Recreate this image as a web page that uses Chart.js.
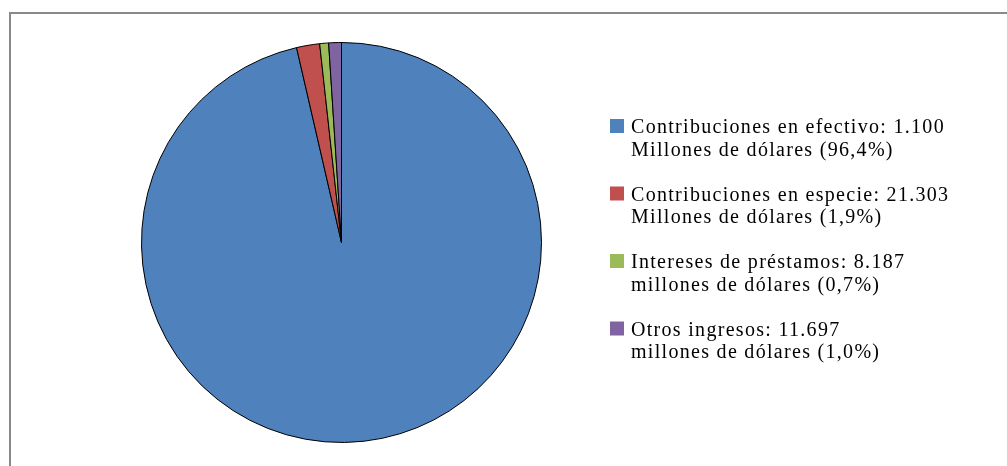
<!DOCTYPE html>
<html>
<head>
<meta charset="utf-8">
<script src="https://cdn.jsdelivr.net/npm/chart.js@4.4.1/dist/chart.umd.min.js"></script>
<style>
  html, body { margin: 0; padding: 0; background: #fff; overflow: hidden; }
  .frame { position: absolute; left: 9px; top: 12px; width: 1100px; height: 600px; border-left: 2px solid #898989; border-top: 2px solid #898989; }
  #wrap { position: absolute; left: 0; top: 0; width: 1007px; height: 466px; }
</style>
</head>
<body>
<div class="frame"></div>
<div id="wrap"><canvas id="c"></canvas></div>
<script>
const categories = [
  ['Contribuciones en efectivo: 1.100', 'Millones de dólares (96,4%)'],
  ['Contribuciones en especie: 21.303', 'Millones de dólares (1,9%)'],
  ['Intereses de préstamos: 8.187', 'millones de dólares (0,7%)'],
  ['Otros ingresos: 11.697', 'millones de dólares (1,0%)'],
];
const amounts = [1100, 21.303, 8.187, 11.697]; // millones de dólares
const colors = ['#4F81BD', '#C0504D', '#9BBB59', '#8064A2'];

// legend drawn by hand so the two-line labels sit like the original
const sideLegend = {
  id: 'sideLegend',
  afterDraw(chart) {
    const ctx = chart.ctx;
    const x = 610, top = 133, step = 67.5, lineH = 22.5, box = 14;
    ctx.save();
    ctx.font = '20px "Liberation Serif", "Times New Roman", serif';
    ctx.letterSpacing = '1.3px';
    ctx.textBaseline = 'alphabetic';
    chart.data.labels.forEach((lines, i) => {
      const y = top + i * step;
      ctx.fillStyle = chart.data.datasets[0].backgroundColor[i];
      ctx.fillRect(x, y - box, box, box);
      ctx.fillStyle = '#000';
      lines.forEach((t, j) => ctx.fillText(t, 631, y + j * lineH));
    });
    ctx.restore();
  }
};

new Chart(document.getElementById('c'), {
  type: 'pie',
  data: {
    labels: categories,
    datasets: [{
      data: amounts,
      backgroundColor: colors,
      borderColor: '#000',
      borderWidth: 1,
    }],
  },
  options: {
    responsive: true, maintainAspectRatio: false,
    animation: false,
    layout: { padding: { left: 141, right: 465, top: 42, bottom: 23 } },
    plugins: { legend: { display: false }, tooltip: { enabled: false } },
  },
  plugins: [sideLegend],
});
</script>
</body>
</html>
